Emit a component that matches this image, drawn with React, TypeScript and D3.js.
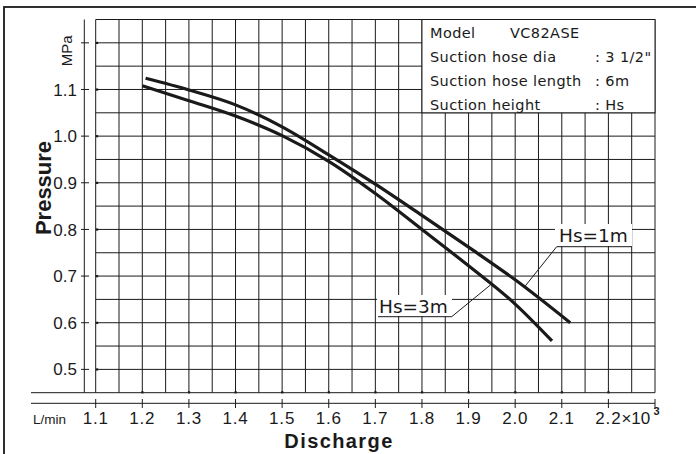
import * as d3 from "d3";

// chart size
const width = 696;
const height = 454;

// axis values
const xTicks = [1.1, 1.2, 1.3, 1.4, 1.5, 1.6, 1.7, 1.8, 1.9, 2.0, 2.1, 2.2];
const xTickLabels = ["1.1", "1.2", "1.3", "1.4", "1.5", "1.6", "1.7", "1.8", "1.9", "2.0", "2.1", "2.2"];
const yTicks = [0.5, 0.6, 0.7, 0.8, 0.9, 1.0, 1.1];
const yTickLabels = ["0.5", "0.6", "0.7", "0.8", "0.9", "1.0", "1.1"];

// curves (discharge x10^3 L/min, pressure MPa)
const hs1Discharge = [1.207, 1.3, 1.4, 1.5, 1.6, 1.7, 1.8, 1.9, 2.0, 2.118];
const hs1Pressure = [1.124, 1.099, 1.067, 1.02, 0.96, 0.897, 0.83, 0.762, 0.692, 0.6];
const hs3Discharge = [1.2, 1.3, 1.4, 1.5, 1.6, 1.7, 1.8, 1.9, 2.0, 2.079];
const hs3Pressure = [1.108, 1.076, 1.043, 1.001, 0.946, 0.877, 0.8, 0.722, 0.64, 0.561];

// spec box
const legendLabels = ["Model", "Suction hose dia", "Suction hose length", "Suction height"];
const legendValues = ["VC82ASE", ": 3 1/2\"", ": 6m", ": Hs"];

const sans = "'Liberation Sans', Arial, sans-serif";
const tech = "'DejaVu Sans', sans-serif";
const ink = "#1a1a1a";

export default function App() {
  const x = d3.scaleLinear().domain([1.1, 2.3]).range([95.7, 655]);
  const y = d3.scaleLinear().domain([0.45, 1.25]).range([392.7, 19.5]);

  const gridX = d3.range(25).map((i) => 1.1 + i * 0.05);
  const gridY = d3.range(17).map((i) => 0.45 + i * 0.05);

  const line = d3
    .line<[number, number]>()
    .x((d) => x(d[0]))
    .y((d) => y(d[1]))
    .curve(d3.curveMonotoneX);

  const hs1 = hs1Discharge.map((v, i) => [v, hs1Pressure[i]] as [number, number]);
  const hs3 = hs3Discharge.map((v, i) => [v, hs3Pressure[i]] as [number, number]);

  const [x0, x1] = x.range();
  const [yb, yt] = y.range();

  // where the leaders touch the curves
  const hs1Anchor = [2.021, 0.678];
  const hs3Anchor = [1.947, 0.681];

  return (
    <svg
      width={width}
      height={height}
      style={{ position: "absolute", left: 0, top: 0, background: "#fff" }}
    >
      {/* frame */}
      <rect x={4} y={7} width={760} height={500} fill="none" stroke={ink} strokeWidth={1.8} />

      {/* grid */}
      <g stroke={ink} strokeWidth={1}>
        {gridX.map((v, i) => (
          <line key={"gx" + i} x1={x(v)} x2={x(v)} y1={yt} y2={yb} />
        ))}
        {gridY.map((v, i) => (
          <line key={"gy" + i} x1={i === 0 ? 31 : x0} x2={x1} y1={y(v)} y2={y(v)} />
        ))}
      </g>

      {/* y axis */}
      <line x1={84.3} x2={84.3} y1={yt} y2={yb} stroke={ink} strokeWidth={1} />
      {[...yTicks, 1.2].map((v, i) => (
        <g key={"yt" + i}>
          <line x1={81} x2={89} y1={y(v)} y2={y(v)} stroke={ink} strokeWidth={1} />
          <rect x={96} y={y(v) - 1} width={2.2} height={2.2} fill={ink} />
        </g>
      ))}
      {yTickLabels.map((t, i) => (
        <text
          key={"yl" + i}
          x={77}
          y={y(yTicks[i])}
          dy="0.36em"
          textAnchor="end"
          fontFamily={sans}
          fontSize={17}
          fill={ink}
        >
          {t}
        </text>
      ))}
      <text
        transform={`translate(72,${y(1.2) + 8}) rotate(-90)`}
        textAnchor="middle"
        fontFamily={sans}
        fontSize={15}
        fill={ink}
      >
        MPa
      </text>
      <text
        transform="translate(51,188) rotate(-90)"
        textAnchor="middle"
        fontFamily={sans}
        fontWeight="bold"
        fontSize={22}
        fill={ink}
      >
        Pressure
      </text>

      {/* x axis */}
      <line x1={31} x2={x1} y1={403.3} y2={403.3} stroke={ink} strokeWidth={1} />
      {[...xTicks, 2.3].map((v, i) => (
        <line key={"xt" + i} x1={x(v)} x2={x(v)} y1={399} y2={408} stroke={ink} strokeWidth={1} />
      ))}
      {xTicks.slice(1).map((v, i) => (
        <rect key={"xd" + i} x={x(v) - 1} y={yb - 1.5} width={2.2} height={2.2} fill={ink} />
      ))}
      {xTickLabels.map((t, i) => (
        <text
          key={"xl" + i}
          x={x(xTicks[i])}
          y={424}
          textAnchor="middle"
          fontFamily={sans}
          fontSize={17}
          letterSpacing={0.8}
          fill={ink}
        >
          {t}
        </text>
      ))}
      <text x={x(2.2) + 13} y={424} fontFamily={sans} fontSize={17} fill={ink}>
        ×10
      </text>
      <text x={x(2.2) + 45} y={415} fontFamily={sans} fontSize={11} fontWeight="bold" fill={ink}>
        3
      </text>
      <text x={33} y={424} fontFamily={sans} fontSize={13.5} fill={ink}>
        L/min
      </text>
      <text
        x={339}
        y={448}
        textAnchor="middle"
        fontFamily={sans}
        fontWeight="bold"
        fontSize={20}
        letterSpacing={1.4}
        fill={ink}
      >
        Discharge
      </text>

      {/* spec box */}
      <rect
        x={x(1.8)}
        y={yt}
        width={x1 - x(1.8)}
        height={y(1.05) - yt}
        fill="#fff"
        stroke={ink}
        strokeWidth={1}
      />
      {legendLabels.map((t, i) => (
        <g key={"lg" + i} fontFamily={tech} fontSize={14.5} letterSpacing={0.4} fill={ink}>
          <text x={430} y={37.5 + i * 24}>{t}</text>
          <text x={i === 0 ? 510 : 595} y={37.5 + i * 24}>
            {legendValues[i]}
          </text>
        </g>
      ))}

      {/* curves */}
      <path d={line(hs1) ?? ""} fill="none" stroke={ink} strokeWidth={3.2} />
      <path d={line(hs3) ?? ""} fill="none" stroke={ink} strokeWidth={3.2} />

      {/* curve labels */}
      <rect x={555} y={224} width={77} height={22} fill="#fff" />
      <text x={559} y={241.7} fontFamily={tech} fontSize={18.5} fill={ink}>
        Hs=1m
      </text>
      <polyline
        points={`${x(hs1Anchor[0])},${y(hs1Anchor[1])} 556.7,246.7 631.7,246.7`}
        fill="none"
        stroke={ink}
        strokeWidth={1}
      />
      <rect x={377} y={295} width={75} height={21} fill="#fff" />
      <text x={379} y={313} fontFamily={tech} fontSize={18.5} fill={ink}>
        Hs=3m
      </text>
      <polyline
        points={`${x(hs3Anchor[0])},${y(hs3Anchor[1])} 451.7,316.7 378,316.7`}
        fill="none"
        stroke={ink}
        strokeWidth={1}
      />
    </svg>
  );
}
